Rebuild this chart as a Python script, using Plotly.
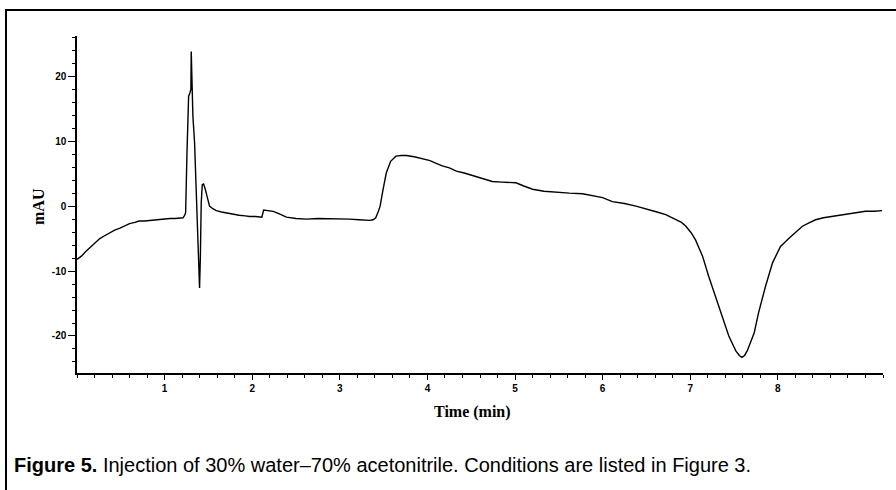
import plotly.graph_objects as go

time_min = [0.00, 0.05, 0.10, 0.15, 0.20, 0.26, 0.31, 0.37, 0.43, 0.49, 0.55, 0.60, 0.66, 0.71,
            0.77, 0.83, 0.88, 0.94, 1.00, 1.06, 1.12, 1.17, 1.21, 1.23, 1.24, 1.255, 1.274, 1.29,
            1.30, 1.304, 1.31, 1.323, 1.342, 1.361, 1.38, 1.399, 1.408, 1.418, 1.43, 1.445, 1.46,
            1.475, 1.49, 1.513, 1.55, 1.59, 1.65, 1.72, 1.78, 1.85, 1.92, 1.97, 2.04, 2.11, 2.13,
            2.17, 2.24, 2.31, 2.39, 2.50, 2.62, 2.75, 2.92, 3.02, 3.11, 3.22, 3.34, 3.38, 3.41,
            3.44, 3.46, 3.49, 3.53, 3.58, 3.64, 3.70, 3.76, 3.85, 3.95, 4.03, 4.10, 4.17, 4.25,
            4.33, 4.42, 4.52, 4.63, 4.74, 4.85, 4.95, 5.01, 5.10, 5.20, 5.33, 5.47, 5.62, 5.77,
            5.90, 6.00, 6.11, 6.25, 6.38, 6.50, 6.62, 6.72, 6.83, 6.90, 6.95, 7.01, 7.06, 7.10,
            7.14, 7.21, 7.29, 7.37, 7.44, 7.52, 7.56, 7.59, 7.62, 7.65, 7.69, 7.73, 7.78, 7.86,
            7.94, 8.03, 8.13, 8.20, 8.28, 8.35, 8.43, 8.52, 8.62, 8.71, 8.81, 8.90, 9.00, 9.10,
            9.19]
mau = [-8.2, -7.7, -7.0, -6.4, -5.8, -5.0, -4.6, -4.1, -3.7, -3.4, -3.0, -2.7, -2.5, -2.3,
       -2.3, -2.2, -2.1, -2.1, -2.0, -1.9, -1.9, -1.8, -1.8, -1.4, -1.0, 8.0, 16.9, 17.5,
       18.0, 23.8, 20.0, 13.8, 9.8, 2.5, -5.6, -12.6, -8.0, 0.5, 3.3, 3.4, 2.8,
       2.0, 1.0, 0.0, -0.4, -0.7, -0.9, -1.1, -1.3, -1.4, -1.5, -1.6, -1.6, -1.7, -0.6,
       -0.7, -0.8, -1.2, -1.7, -1.9, -2.0, -1.9, -1.9, -2.0, -2.0, -2.1, -2.2, -2.1, -1.8,
       -0.8, 0.0, 2.3, 5.1, 6.9, 7.7, 7.8, 7.8, 7.6, 7.3, 7.0, 6.6, 6.2, 5.9,
       5.4, 5.1, 4.7, 4.3, 3.8, 3.7, 3.6, 3.6, 3.1, 2.6, 2.3, 2.1, 2.0, 1.9,
       1.6, 1.3, 0.7, 0.4, 0.0, -0.4, -0.9, -1.3, -2.0, -2.5, -3.1, -4.1, -5.2, -6.4,
       -7.7, -10.8, -13.9, -17.0, -20.0, -22.3, -23.0, -23.3, -23.0, -22.3, -21.0, -19.5, -16.4, -12.3,
       -8.7, -6.2, -4.9, -4.0, -3.1, -2.6, -2.1, -1.8, -1.6, -1.4, -1.2, -1.0, -0.8, -0.8,
       -0.7]

x_ticks = [1, 2, 3, 4, 5, 6, 7, 8]
x_tick_labels = ["1", "2", "3", "4", "5", "6", "7", "8"]
y_ticks = [-20, -10, 0, 10, 20]
y_tick_labels = ["-20", "-10", "0", "10", "20"]

x_title = "Time (min)"
y_title = "mAU"
caption = "<b>Figure 5.</b> Injection of 30% water–70% acetonitrile. Conditions are listed in Figure 3."

fig = go.Figure()
fig.add_trace(go.Scatter(x=time_min, y=mau, mode="lines",
                         line=dict(color="black", width=1.4), hoverinfo="skip"))

tick_font = dict(family="Liberation Sans, Arial, sans-serif", size=10, color="black")
title_font = dict(family="Liberation Serif, Times New Roman, serif", size=16, color="black")

fig.update_layout(
    width=896, height=490,
    margin=dict(l=77, r=13, t=36, b=117),
    paper_bgcolor="white", plot_bgcolor="white",
    showlegend=False,
    xaxis=dict(range=[0, 9.2], showgrid=False, zeroline=False,
               showline=True, linecolor="black", linewidth=1.5,
               tickmode="array", tickvals=x_ticks,
               ticktext=["<b>%s</b>" % t for t in x_tick_labels],
               ticks="outside", ticklen=5, tickwidth=1.2, tickcolor="black",
               tickfont=tick_font,
               minor=dict(dtick=0.2, tick0=0, ticks="outside", ticklen=3,
                          tickwidth=1, tickcolor="black")),
    yaxis=dict(range=[-25.7, 26.2], showgrid=False, zeroline=False,
               showline=True, linecolor="black", linewidth=1.5,
               tickmode="array", tickvals=y_ticks,
               ticktext=["<b>%s</b>" % t for t in y_tick_labels],
               ticks="outside", ticklen=7, tickwidth=1.2, tickcolor="black",
               tickfont=tick_font,
               minor=dict(dtick=2, tick0=0, ticks="outside", ticklen=3,
                          tickwidth=1, tickcolor="black")),
)

# axis titles
fig.add_annotation(text="<b>%s</b>" % x_title, xref="paper", yref="paper",
                   x=0.491, y=-0.1157, xanchor="center", yanchor="middle",
                   showarrow=False, font=title_font)
fig.add_annotation(text="<b>%s</b>" % y_title, xref="paper", yref="paper",
                   x=-0.0484, y=0.4955, xanchor="center", yanchor="middle",
                   textangle=-90, showarrow=False, font=title_font)

# figure frame
fig.add_shape(type="rect", xref="paper", yref="paper",
              x0=-0.0881, x1=1.03, y0=-0.37, y1=1.0772,
              line=dict(color="black", width=2), layer="below")

fig.add_annotation(text=caption, xref="paper", yref="paper",
                   x=-0.0807, y=-0.273, xanchor="left", yanchor="middle",
                   showarrow=False,
                   font=dict(family="Liberation Sans Narrow, Arial Narrow, Liberation Sans, sans-serif",
                             size=20, color="black"))

fig.write_html("out.html")
